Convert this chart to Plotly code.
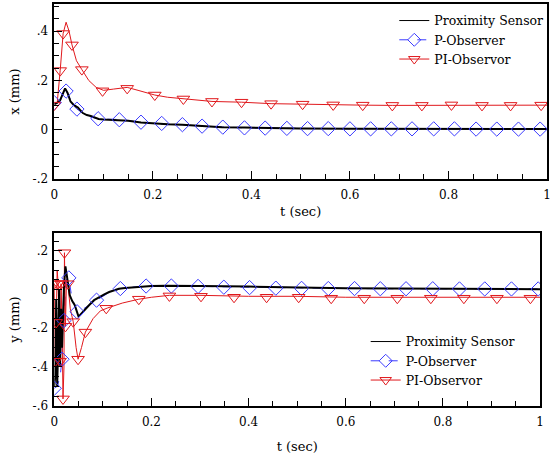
import plotly.graph_objects as go

# ---------------- Top panel: x (mm) ----------------
tx_sensor = [0.0, 0.005, 0.012, 0.018, 0.022, 0.027, 0.033, 0.04, 0.048, 0.058, 0.066, 0.074, 0.082, 0.09,
             0.1, 0.115, 0.132, 0.15, 0.176, 0.2, 0.23, 0.26, 0.3, 0.34, 0.386, 0.43, 0.5, 0.6, 0.7, 0.8, 0.9, 1.0]
x_sensor = [0.105, 0.108, 0.12, 0.15, 0.168, 0.15, 0.115, 0.1, 0.09, 0.068, 0.06, 0.056, 0.05, 0.044,
            0.042, 0.041, 0.041, 0.037, 0.03, 0.026, 0.023, 0.021, 0.015, 0.011, 0.009, 0.007, 0.005, 0.004, 0.004, 0.004, 0.003, 0.003]

tx_pobs = [0.0, 0.008, 0.016, 0.024, 0.03, 0.038, 0.046, 0.06, 0.074, 0.089, 0.11, 0.131, 0.155, 0.175, 0.2,
           0.218, 0.26, 0.3, 0.342, 0.386, 0.43, 0.5, 0.6, 0.7, 0.8, 0.9, 1.0]
x_pobs = [0.11, 0.11, 0.13, 0.157, 0.135, 0.1, 0.084, 0.065, 0.052, 0.045, 0.043, 0.042, 0.036, 0.03, 0.025,
          0.023, 0.021, 0.015, 0.011, 0.008, 0.007, 0.005, 0.004, 0.004, 0.004, 0.003, 0.003]
tm_pobs = [0.0, 0.024, 0.046, 0.089, 0.132, 0.176, 0.218, 0.26, 0.3, 0.342, 0.386, 0.428, 0.472, 0.514,
           0.556, 0.6, 0.642, 0.684, 0.726, 0.77, 0.812, 0.856, 0.898, 0.942, 0.986]
xm_pobs = [0.11, 0.157, 0.084, 0.045, 0.041, 0.031, 0.026, 0.021, 0.015, 0.011, 0.008, 0.007, 0.006, 0.005,
           0.005, 0.004, 0.004, 0.004, 0.004, 0.004, 0.004, 0.003, 0.003, 0.003, 0.003]

tx_piobs = [0.0, 0.006, 0.012, 0.018, 0.024, 0.03, 0.036, 0.045, 0.056, 0.07, 0.085, 0.1, 0.12, 0.148, 0.17,
            0.204, 0.23, 0.262, 0.29, 0.32, 0.38, 0.44, 0.504, 0.566, 0.626, 0.686, 0.746, 0.806, 0.868, 0.926, 0.988, 1.0]
x_piobs = [0.1, 0.11, 0.24, 0.39, 0.436, 0.4, 0.344, 0.28, 0.244, 0.2, 0.172, 0.16, 0.165, 0.172, 0.16,
           0.141, 0.132, 0.125, 0.12, 0.115, 0.112, 0.106, 0.104, 0.101, 0.1, 0.099, 0.099, 0.101, 0.099, 0.099, 0.1, 0.1]
tm_piobs = [0.0, 0.012, 0.018, 0.036, 0.056, 0.098, 0.148, 0.204, 0.262, 0.32, 0.38, 0.44, 0.504, 0.566,
            0.626, 0.686, 0.746, 0.806, 0.868, 0.926, 0.988]
xm_piobs = [0.1, 0.24, 0.39, 0.344, 0.244, 0.158, 0.168, 0.141, 0.125, 0.115, 0.112, 0.106, 0.104, 0.101,
            0.1, 0.099, 0.099, 0.101, 0.099, 0.099, 0.1]

# ---------------- Bottom panel: y (mm) ----------------
ty_sensor = [0.0, 0.002, 0.004, 0.006, 0.008, 0.01, 0.012, 0.014, 0.016, 0.018, 0.02, 0.023, 0.027, 0.032,
             0.037, 0.042, 0.05, 0.06, 0.072, 0.082, 0.093, 0.103, 0.113, 0.123, 0.133, 0.146, 0.17, 0.2, 0.23,
             0.26, 0.3, 0.4, 0.5, 0.6, 0.7, 0.8, 0.9, 1.0]
y_sensor = [-0.5, -0.45, -0.05, -0.5, -0.3, 0.0, -0.4, -0.1, -0.3, -0.05, 0.02, 0.12, 0.05, -0.03,
            -0.06, -0.08, -0.14, -0.11, -0.08, -0.055, -0.038, -0.025, -0.013, -0.004, 0.004, 0.008, 0.014, 0.018, 0.02,
            0.02, 0.018, 0.015, 0.01, 0.007, 0.005, 0.004, 0.003, 0.002]

ty_pobs = [0.0, 0.006, 0.012, 0.016, 0.018, 0.02, 0.024, 0.03, 0.036, 0.047, 0.06, 0.074, 0.087, 0.11,
           0.136, 0.16, 0.189, 0.241, 0.296, 0.349, 0.402, 0.456, 0.509, 0.6, 0.7, 0.8, 0.9, 1.0]
y_pobs = [-0.51, -0.5, -0.45, -0.36, -0.1, -0.16, 0.05, 0.06, -0.04, -0.115, -0.1, -0.075, -0.055, -0.02,
          0.005, 0.012, 0.018, 0.018, 0.016, 0.012, 0.01, 0.007, 0.006, 0.005, 0.004, 0.004, 0.003, 0.003]
tm_pobs_y = [0.0, 0.016, 0.02, 0.03, 0.047, 0.087, 0.136, 0.189, 0.241, 0.296, 0.349, 0.402, 0.456, 0.509,
             0.564, 0.618, 0.671, 0.724, 0.779, 0.834, 0.886, 0.941, 0.996]
ym_pobs = [-0.51, -0.36, -0.16, 0.06, -0.115, -0.055, 0.005, 0.018, 0.018, 0.016, 0.012, 0.01, 0.007, 0.006,
           0.005, 0.005, 0.004, 0.004, 0.004, 0.003, 0.003, 0.003, 0.003]

ty_piobs = [0.0, 0.002, 0.004, 0.006, 0.008, 0.01, 0.012, 0.014, 0.016, 0.018, 0.02, 0.021, 0.023, 0.025,
            0.028, 0.033, 0.039, 0.045, 0.049, 0.056, 0.064, 0.08, 0.095, 0.11, 0.14, 0.174, 0.2, 0.237, 0.3,
            0.4, 0.5, 0.6, 0.7, 0.8, 0.9, 1.0]
y_piobs = [0.03, -0.37, -0.17, 0.1, 0.03, -0.17, -0.37, 0.03, -0.18, -0.565, -0.4, 0.19, -0.19, 0.03,
           0.03, -0.1, -0.166, -0.3, -0.36, -0.3, -0.22, -0.15, -0.11, -0.095, -0.07, -0.05, -0.04, -0.03, -0.03,
           -0.035, -0.035, -0.04, -0.04, -0.04, -0.04, -0.04]
tm_piobs_y = [0.0, 0.002, 0.004, 0.008, 0.012, 0.014, 0.018, 0.021, 0.023, 0.028, 0.039, 0.049, 0.064,
              0.107, 0.174, 0.237, 0.302, 0.37, 0.437, 0.503, 0.57, 0.638, 0.706, 0.775, 0.843, 0.911, 0.98]
ym_piobs = [0.03, -0.37, -0.17, 0.03, -0.37, 0.03, -0.565, 0.19, -0.19, 0.03, -0.166, -0.36, -0.22,
            -0.097, -0.05, -0.033, -0.035, -0.04, -0.04, -0.04, -0.045, -0.045, -0.045, -0.045, -0.045, -0.045, -0.045]

# tick labels
x_tickvals = [0, 0.2, 0.4, 0.6, 0.8, 1.0]
x_ticktext = ["0", "0.2", "0.4", "0.6", "0.8", "1"]
top_tickvals = [-0.2, 0, 0.2, 0.4]
top_ticktext = ["-.2", "0", ".2", ".4"]
bot_tickvals = [-0.6, -0.4, -0.2, 0, 0.2]
bot_ticktext = ["-.6", "-.4", "-.2", "0", ".2"]

names = ["Proximity Sensor", "P-Observer", "PI-Observor"]

BLACK = "#000000"
BLUE = "#3b3bff"
RED = "#e0181c"
FONT = "DejaVu Serif"

fig = go.Figure()


def add_panel(xa, ya, legend, t_s, v_s, t_p, v_p, tm_p, vm_p, t_pi, v_pi, tm_pi, vm_pi):
    fig.add_trace(go.Scatter(x=t_p, y=v_p, mode="lines", xaxis=xa, yaxis=ya, showlegend=False,
                             line=dict(color=BLUE, width=1, dash="dash")))
    fig.add_trace(go.Scatter(x=t_pi, y=v_pi, mode="lines", xaxis=xa, yaxis=ya, showlegend=False,
                             line=dict(color=RED, width=1)))
    fig.add_trace(go.Scatter(x=t_s, y=v_s, mode="lines", xaxis=xa, yaxis=ya, showlegend=False,
                             line=dict(color=BLACK, width=2)))
    fig.add_trace(go.Scatter(x=tm_p, y=vm_p, mode="markers", xaxis=xa, yaxis=ya, showlegend=False,
                             marker=dict(symbol="diamond-open", size=11, color=BLUE, line=dict(width=1))))
    fig.add_trace(go.Scatter(x=tm_pi, y=vm_pi, mode="markers", xaxis=xa, yaxis=ya, showlegend=False,
                             marker=dict(symbol="triangle-down-open", size=11, color=RED, line=dict(width=1))))
    # legend entries
    fig.add_trace(go.Scatter(x=[None], y=[None], mode="lines", name=names[0], legend=legend,
                             xaxis=xa, yaxis=ya, line=dict(color=BLACK, width=1)))
    fig.add_trace(go.Scatter(x=[None], y=[None], mode="lines+markers", name=names[1], legend=legend,
                             xaxis=xa, yaxis=ya, line=dict(color=BLUE, width=1, dash="dash"),
                             marker=dict(symbol="diamond-open", size=10, color=BLUE, line=dict(width=1))))
    fig.add_trace(go.Scatter(x=[None], y=[None], mode="lines+markers", name=names[2], legend=legend,
                             xaxis=xa, yaxis=ya, line=dict(color=RED, width=1),
                             marker=dict(symbol="triangle-down-open", size=10, color=RED, line=dict(width=1))))


add_panel("x", "y", "legend", tx_sensor, x_sensor, tx_pobs, x_pobs, tm_pobs, xm_pobs,
          tx_piobs, x_piobs, tm_piobs, xm_piobs)
add_panel("x2", "y2", "legend2", ty_sensor, y_sensor, ty_pobs, y_pobs, tm_pobs_y, ym_pobs,
          ty_piobs, y_piobs, tm_piobs_y, ym_piobs)

W, H = 554, 457

axis_common = dict(showline=True, linecolor="black", linewidth=1.5, mirror=True, ticks="inside",
                   ticklen=8, tickwidth=1, tickcolor="black", showgrid=False, zeroline=False,
                   tickfont=dict(family=FONT, size=12, color="black"))

xtitle_font = dict(family=FONT, size=13, color="black")
ytitle_font = dict(family=FONT, size=13, color="black")

minor = dict(ticks="inside", dtick=0.05, tick0=0, ticklen=5, tickcolor="black")

fig.update_layout(
    width=W, height=H, margin=dict(l=0, r=0, t=0, b=0),
    paper_bgcolor="white", plot_bgcolor="white",
    font=dict(family=FONT, size=12, color="black"),
    xaxis=dict(domain=[51 / W, 551 / W], anchor="y", range=[0, 1], tickmode="array",
               tickvals=x_tickvals, ticktext=x_ticktext, minor=minor, ticklabelstandoff=4,
               title=dict(text="t (sec)", standoff=6, font=xtitle_font), **axis_common),
    yaxis=dict(domain=[1 - 182 / H, 1 - 4 / H], anchor="x", range=[-0.2, 0.51], tickmode="array",
               tickvals=top_tickvals, ticktext=top_ticktext, minor=minor, ticklabelstandoff=2,
               title=dict(text="x (mm)", standoff=10, font=ytitle_font), **axis_common),
    xaxis2=dict(domain=[51 / W, 544 / W], anchor="y2", range=[0, 1], tickmode="array",
                tickvals=x_tickvals, ticktext=x_ticktext, minor=minor, ticklabelstandoff=4,
                title=dict(text="t (sec)", standoff=14, font=xtitle_font), **axis_common),
    yaxis2=dict(domain=[1 - 412 / H, 1 - 237 / H], anchor="x2", range=[-0.6, 0.29], tickmode="array",
                tickvals=bot_tickvals, ticktext=bot_ticktext, minor=minor, ticklabelstandoff=2,
                title=dict(text="y (mm)", standoff=10, font=ytitle_font), **axis_common),
    legend=dict(x=396 / W, y=1 - 6 / H, xanchor="left", yanchor="top", bgcolor="rgba(0,0,0,0)",
                font=dict(family=FONT, size=12.5, color="black"), tracegroupgap=0),
    legend2=dict(x=367 / W, y=1 - 332 / H, xanchor="left", yanchor="top", bgcolor="rgba(0,0,0,0)",
                 font=dict(family=FONT, size=12.5, color="black"), tracegroupgap=0),
)

fig.write_html("out.html")
